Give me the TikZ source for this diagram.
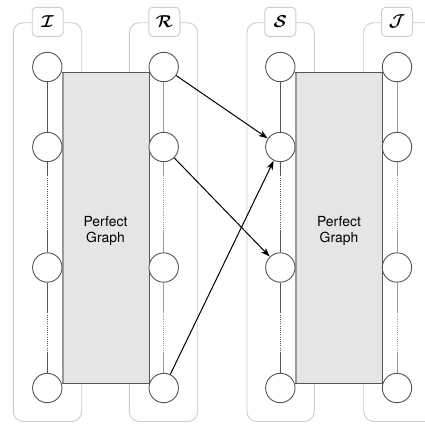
\documentclass[tikz,border=0pt]{standalone}
\usepackage{bm}
\usepackage{fontspec}
\newfontfamily\heros{TeX Gyre Heros}
\usetikzlibrary{arrows.meta,calc}
\definecolor{groupline}{HTML}{CCCCCC}
\definecolor{rectfill}{HTML}{E5E5E5}
\definecolor{darkline}{HTML}{555555}
\definecolor{lightline}{HTML}{9A9A9A}
\tikzset{
  vtx/.style={circle, draw=darkline, fill=white, line width=0.9pt, minimum size=29.4pt, inner sep=0pt},
  groupbox/.style={draw=groupline, line width=0.9pt, rounded corners=10pt},
  tagbox/.style={draw=groupline, fill=white, line width=0.9pt, rounded corners=4pt, minimum width=31pt, minimum height=29pt, inner sep=0pt, font=\fontsize{16}{18}\selectfont},
  perfect/.style={fill=rectfill, draw=darkline, line width=0.9pt},
  rectedge/.style={draw=lightline, line width=1.8pt},
  link/.style={line width=1pt, draw=#1},
  dotlink/.style={line width=1pt, draw=#1, dash pattern=on 1pt off 1.2pt},
  arr/.style={draw=black, line width=1pt, -{Stealth[length=9pt,width=6.5pt]}, shorten >=0.3pt},
  plabel/.style={font=\heros\fontsize{13.9}{16.5}\selectfont, align=center}
}
\begin{document}
\begin{tikzpicture}[x=1pt,y=-1pt]
\useasboundingbox (0,0) rectangle (425,423);
\clip (0,0) rectangle (425,423);

% group frames
\draw[groupbox] (13.3,22.7) rectangle (81.7,421.5);
\draw[groupbox] (129.3,22.7) rectangle (197.7,421.5);
\draw[groupbox] (247,22.7) rectangle (314.3,421.5);
\draw[groupbox] (363.7,22.7) rectangle (440,421.5);

% frame tags
\node[tagbox] (tI) at (47.7,21.8) {$\bm{\mathcal{I}}$};
\node[tagbox] (tR) at (164.3,21.8) {$\bm{\mathcal{R}}$};
\node[tagbox] (tS) at (280.3,21.8) {$\bm{\mathcal{S}}$};
\node[tagbox] (tJ) at (397,21.8) {$\bm{\mathcal{J}}$};

% perfect graph blocks
\draw[perfect] (62,72.3) rectangle (149,383.3);
\draw[rectedge] (62.6,72.8) -- (62.6,382.8);
\node[plabel] (pg1) at (105.5,231) {Perfect\\Graph};
\draw[perfect] (295.3,72.3) rectangle (382.7,383.3);
\draw[rectedge] (295.9,72.8) -- (295.9,382.8);
\node[plabel] (pg2) at (339,231) {Perfect\\Graph};

% vertices
\foreach \c/\x in {I/47.3, R/163.7, S/280.3, J/397} {
  \node[vtx] (\c1) at (\x,67) {};
  \node[vtx] (\c2) at (\x,147) {};
  \node[vtx] (\c3) at (\x,267.5) {};
  \node[vtx] (\c4) at (\x,388) {};
}

% column paths (solid, then dotted gap, then solid)
\foreach \c/\col in {I/darkline, R/lightline, S/darkline, J/lightline} {
  \draw[link=\col] (\c1.south) -- (\c2.north);
  \draw[link=\col] (\c2.south) -- ($(\c2.south)+(0,13.3)$) coordinate (\c a);
  \draw[dotlink=\col] (\c a) -- ($(\c3.north)+(0,-21)$) coordinate (\c b);
  \draw[link=\col] (\c b) -- (\c3.north);
  \draw[link=\col] (\c3.south) -- ($(\c3.south)+(0,29.7)$) coordinate (\c c);
  \draw[dotlink=\col] (\c c) -- ($(\c4.north)+(0,-21.3)$) coordinate (\c d);
  \draw[link=\col] (\c d) -- (\c4.north);
}

% mapping arrows
\draw[arr] (R1) -- (S2);
\draw[arr] (R2) -- (S3);
\draw[arr] (R4) -- (S2);
\end{tikzpicture}
\end{document}
